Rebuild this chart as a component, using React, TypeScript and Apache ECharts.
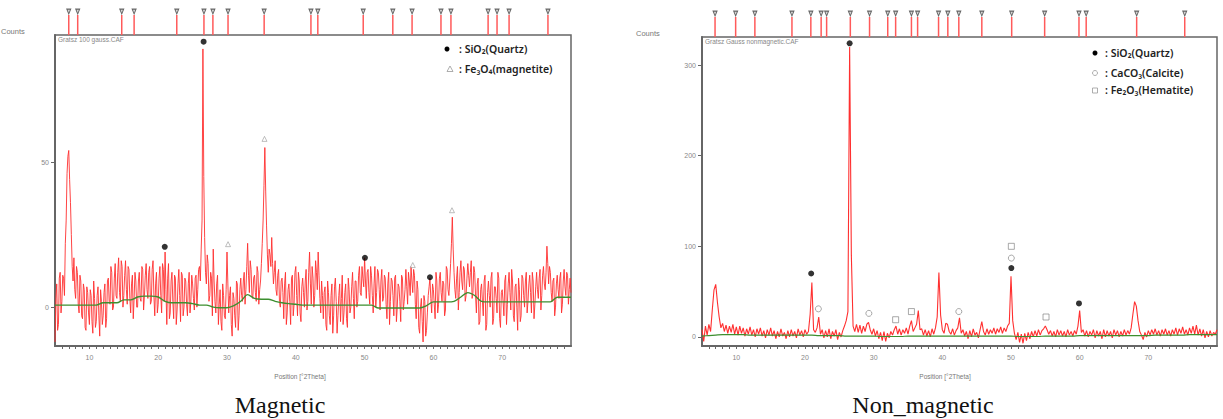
import React, { useEffect, useRef } from "react";
import * as echarts from "echarts";

// ---- data ----
const SCAN_START = 5;
const SCAN_STEP = 0.25;
const X_MIN = 5;
const X_MAX = 80;
const X_LABELS = [10, 20, 30, 40, 50, 60, 70];
const L_Y_LABELS = [0, 50];
const R_Y_LABELS = [0, 100, 200, 300];

// Magnetic sample counts, 5..80 °2θ at 0.25° steps
const L_COUNTS = [
  -12, 8, -6, 12, 2, 10, 22, 46, 54, 36, 14, 17, 3, 12, -2, 9, -4, 6, -8, 5,
  -6, 4, -9, 3, -5, 7, -10, 2, -3, 8, -4, 10, 1, 12, 0, 15, 3, 17, 2, 14,
  4, 16, 1, 13, -2, 11, 3, 9, 0, 12, 2, 13, 4, 15, 3, 14, 2, 16, -3, 12,
  1, 14, -2, 13, 19, -6, 15, -2, 12, -4, 10, -1, 13, -5, 11, 0, 9, -3, 12, 2,
  8, -1, 11, 6, 14, 20, 89, 24, 8, 15, 4, 10, 20, 2, 8, -6, 6, -8, 4, -4,
  19, -2, 7, -10, 3, -7, 8, -3, 10, 2, 12, 6, 22, 5, 13, 3, 11, 2, 12, 6,
  15, 30, 55, 28, 12, 18, 24, 8, 16, 4, 13, 0, 10, -4, 12, -2, 8, -6, 11, 1,
  14, -3, 9, -5, 10, 0, 13, 2, 19, 1, 10, 4, 12, 19, 3, 9, -4, 7, -8, 5,
  -6, 8, -3, 10, -9, 4, -5, 11, -2, 8, -7, 6, 0, 12, -4, 9, 2, 14, 4, 10,
  17, 3, 13, 1, 11, -2, 14, 5, 12, -1, 13, 3, 10, -4, 12, 2, 9, -3, 11, 0,
  7, -5, 10, 2, 13, 1, 9, 14, 5, 11, -4, 6, -9, 3, -12, 2, -8, 4, 10, -2,
  6, -4, 9, 1, 12, 2, 8, -1, 13, 4, 15, 31, 12, 3, 14, 5, 16, 6, 13, 4,
  15, 7, 16, 5, 12, -2, 10, -5, 8, -3, 11, -6, 9, 0, 12, -4, 7, -2, 10, -7,
  6, -3, 11, 1, 12, -1, 9, -5, 8, -8, 6, -3, 10, 0, 12, 2, 11, -2, 9, 1,
  12, 3, 13, 4, 14, 6, 21, 8, 12, 2, 10, 0, 11, 3, 12, 1, 13, 4, 11, 6,
  5,
];
// Magnetic sample counts at the in-between positions, 5.125..79.875 °2θ
const L_COUNTS_MID = [
  3, -8, 10, -2, 11, 4, 30, 52, 44, 25, 9, 6, 14, 1, 11, -3, 8, -7, 7, -2,
  6, -5, 9, -7, 4, -3, 6, -6, 5, -7, 9, 2, 14, -1, 10, 4, 12, 5, 16, 0,
  11, 6, 14, 3, 8, -4, 12, 0, 9, 3, 14, -1, 11, 6, 12, 1, 13, 4, 8, -2,
  10, 4, 15, 2, 6, 10, -4, 9, 2, 11, -6, 8, 4, 12, -3, 10, 1, 8, -2, 11,
  3, 10, 0, 13, 9, 30, 45, 12, 18, 2, 12, -3, 9, -2, 11, 1, -5, 8, -3, 6,
  8, 4, -6, 5, -3, 9, -8, 6, 4, 9, 1, 14, 11, 16, 4, 10, 5, 14, 1, 9,
  22, 42, 40, 18, 20, 14, 15, 12, 6, 11, 2, 9, 5, 8, -6, 6, 2, 10, -3, 12,
  4, 12, -2, 7, 5, 9, -1, 12, 8, 14, 0, 16, 6, 11, -2, 4, 5, -6, 9, -3,
  4, -9, 7, 2, -3, 8, 3, -6, 5, -4, 10, -2, 7, 3, 9, 0, 11, 5, 14, 7,
  9, 12, 5, 14, 4, 8, 0, 13, 6, 9, 2, 11, 1, 8, -6, 10, 4, 10, -5, 8,
  2, 11, -1, 6, 7, 12, 4, 9, 13, 1, 9, -7, 0, -5, 4, -10, -2, 7, 3, 8,
  1, 12, -2, 10, 5, 9, -3, 14, 6, 9, 22, 20, 6, 10, -1, 12, 9, 14, 2, 10,
  11, 12, 3, 14, 4, 8, -6, 6, 2, 9, -8, 5, 4, 10, -6, 7, 3, 12, -4, 5,
  2, 9, -6, 8, 5, 13, -3, 7, 0, 10, -5, 11, 4, 9, -2, 8, 5, 12, -4, 7,
  6, 10, -1, 11, 8, 12, 15, 14, 5, 9, -3, 8, 6, 10, -2, 9, 7, 12, 1, 10,
];
// background curves, 5..80 at 1° steps
const BG_X = [5,6,7,8,9,10,11,12,13,14,15,16,17,18,19,20,21,22,23,24,25,26,27,28,29,30,31,32,33,34,35,36,37,38,39,40,41,42,43,44,45,46,47,48,49,50,51,52,53,54,55,56,57,58,59,60,61,62,63,64,65,66,67,68,69,70,71,72,73,74,75,76,77,78,79,80];
const L_BG = [
  0.7, 0.7, 0.7, 0.7, 0.7, 0.7, 0.7, 1.5, 1.5, 1.5, 2.5, 2.5, 3.5, 3.8, 3.8, 3.5,
  2, 1.5, 1.5, 1.5, 1.2, 0.7, 0.7, 0, -0.2, -0.2, 0.5, 2, 4.3, 3, 2.7, 2.7, 2,
  1.5, 1.2, 1, 0.7, 0.7, 0.7, 0.7, 0.7, 0.7, 0.7, 0.7, 0.7, 0.7, 0.7, -0.3, -0.3,
  -0.3, -0.3, -0.3, -0.3, -0.3, 0.5, 1.8, 1.8, 1.8, 2, 3.5, 5, 4, 2, 1.8, 1.8,
  1.8, 1.8, 1.8, 1.8, 1.8, 1.8, 1.8, 1.8, 3.4, 3.4, 3.4,
];
const L_QUARTZ = [[20.95, 20.8], [26.6, 91.5], [50.05, 17], [59.5, 10.3]];
const L_MAGNETITE = [[30.15, 21.7], [35.45, 58], [57.0, 14.5], [62.7, 33.4]];
const L_REF_LINES = [7.0, 8.3, 14.7, 16.5, 22.7, 26.65, 27.95, 30.15, 35.4, 42.2, 43.2, 49.8, 54.1, 56.9, 61.1, 62.55, 67.95, 69.25, 71.0, 76.65];

// Non-magnetic sample counts, 5..80 °2θ at 0.25° steps
const R_COUNTS = [
  8, -5, 12, 2, 14, 6, 30, 52, 58, 38, 22, 10, 15, 6, 13, 4, 12, 5, 14, 3,
  11, 2, 12, 4, 10, 1, 9, 3, 11, 2, 8, 0, 9, 3, 10, 1, 7, -1, 8, 2,
  10, 1, 7, -2, 6, 0, 9, 1, 5, -2, 7, 0, 8, 1, 6, -1, 9, 2, 7, 0,
  8, 3, 6, 25, 60, 8, 5, 10, 22, 3, 8, -1, 7, 0, 9, -2, 6, 1, 8, -3,
  5, 0, 7, 12, 18, 28, 320, 90, 12, 6, 14, 5, 13, 4, 12, 6, 14, 16, 8, 3,
  9, 1, 7, -2, 5, -4, 6, -5, 4, -1, 6, 2, 8, 12, 3, 9, 2, 8, 4, 10,
  3, 12, 18, 6, 10, 14, 29, 8, 9, 2, 8, 1, 7, 0, 9, 3, 10, 22, 71, 24,
  8, 4, 15, 14, 6, 3, 9, 2, 7, 10, 21, 4, 8, 1, 6, -2, 7, 0, 9, 2,
  5, -1, 8, 17, 6, 2, 9, 3, 8, 4, 10, 3, 9, 5, 11, 4, 10, 6, 12, 15,
  67, 18, 4, -3, 5, -6, 3, -7, 4, -4, 5, -2, 6, 0, 7, 1, 8, 2, 7, 9,
  12, 8, 3, 7, 1, 6, 0, 8, 2, 7, 1, 6, 0, 8, 2, 6, 1, 7, 3, 12,
  29, 5, 8, 1, 7, 0, 6, 2, 8, -1, 7, 1, 6, -2, 8, 0, 7, 1, 6, -1,
  8, 2, 7, 0, 6, 1, 8, 2, 7, 3, 10, 25, 39, 34, 18, 6, 2, -3, 5, 0,
  7, 2, 8, 3, 9, 2, 7, 1, 8, 3, 9, 2, 7, 1, 8, 3, 10, 2, 9, 4,
  11, 3, 8, 2, 10, 4, 12, 3, 13, 2, 9, 1, 8, -1, 6, 0, 7, 1, 5, 3,
  8,
];
const R_BG = [
  1, 1.5, 2, 2.5, 2.5, 2.5, 2.5, 2, 2, 2, 2, 2, 2, 2, 2, 2, 2, 1.5, 1.5, 1.5,
  1.5, 1, 1, 1, 1, 1, 0.5, 0.5, 0.5, 0.5, 1, 1, 1, 1, 1, 1, 1, 1, 1, 1,
  1, 1, 1, 1, 1, 1, 0.5, 0.5, 0.5, 0.5, 1, 1, 1, 1, 1, 1.5, 1.5, 1.5, 1.5, 1.5,
  1.5, 1.5, 1.5, 1.5, 1.5, 1.5, 2, 2, 2, 2, 2, 2.5, 2.5, 2.5, 2.5, 2.5,
];
const R_QUARTZ = [[20.9, 70], [26.5, 324], [50.05, 76], [59.9, 37]];
const R_CALCITE = [[21.95, 31], [29.3, 26], [42.4, 28], [50.05, 87]];
const R_HEMATITE = [[33.2, 19], [35.5, 28], [50.05, 100], [55.1, 22]];
const R_REF_LINES = [6.9, 9.9, 12.7, 18.1, 20.85, 22.35, 23.15, 26.6, 29.4, 32.05, 33.2, 35.5, 36.4, 39.45, 40.8, 42.4, 45.75, 50.1, 54.9, 59.9, 60.95, 68.3, 75.3];

const AXIS_COLOR = "#666";
const RED = "#ff3030";
const GREEN = "#3d8f2f";

function scanPairs(vals: number[]) {
  return vals.map((v, i) => [SCAN_START + i * SCAN_STEP, v]);
}
function interleave(main: number[], mid: number[]) {
  const out: number[][] = [];
  for (let i = 0; i < main.length; i++) {
    out.push([SCAN_START + i * SCAN_STEP, main[i]]);
    if (i < mid.length) out.push([SCAN_START + i * SCAN_STEP + SCAN_STEP / 2, mid[i]]);
  }
  return out;
}
function bgPairs(vals: number[]) {
  return vals.map((v, i) => [BG_X[i], v]);
}

const minorTicks: number[] = [];
for (let t = 6; t <= 79; t++) minorTicks.push(t);

function mainX(gridIndex: number) {
  return {
    type: "value",
    gridIndex,
    min: X_MIN,
    max: X_MAX,
    axisLine: { show: true, onZero: false, lineStyle: { color: AXIS_COLOR, width: 2 } },
    axisTick: { show: true, customValues: minorTicks, length: 3, lineStyle: { color: AXIS_COLOR, width: 1 } },
    axisLabel: { show: true, customValues: X_LABELS, fontSize: 7, color: "#888", margin: 8, fontFamily: "Liberation Sans" },
    splitLine: { show: false },
  };
}
function mainY(gridIndex: number, min: number, max: number, labels: number[]) {
  return {
    type: "value",
    gridIndex,
    min,
    max,
    axisLine: { show: true, onZero: false, lineStyle: { color: AXIS_COLOR, width: 2 } },
    axisTick: { show: true, customValues: labels, length: 4, lineStyle: { color: AXIS_COLOR, width: 1 } },
    axisLabel: { show: true, customValues: labels, fontSize: 7, color: "#888", margin: 6, fontFamily: "Liberation Sans" },
    splitLine: { show: false },
  };
}
function stubX(gridIndex: number) {
  return { type: "value", gridIndex, min: X_MIN, max: X_MAX, show: false, splitLine: { show: false } };
}
function stubY(gridIndex: number) {
  return { type: "value", gridIndex, min: 0, max: 1.35, show: false, splitLine: { show: false } };
}

function stubSeries(refs: number[], idx: number) {
  return [
    {
      type: "bar",
      xAxisIndex: idx,
      yAxisIndex: idx,
      barWidth: 1.5,
      itemStyle: { color: "#ff5a5a" },
      data: refs.map((x) => [x, 1]),
      silent: true,
    },
    {
      type: "scatter",
      xAxisIndex: idx,
      yAxisIndex: idx,
      symbol: "triangle",
      symbolRotate: 180,
      symbolSize: [4, 5],
      itemStyle: { color: "#ccc", borderColor: "#444", borderWidth: 1 },
      data: refs.map((x) => [x, 1.17]),
      silent: true,
    },
  ];
}

function text(x: number, y: number, t: string, opts: any = {}) {
  return {
    type: "text",
    x,
    y,
    silent: true,
    style: {
      text: t,
      fontSize: opts.fontSize ?? 7,
      fontFamily: opts.fontFamily ?? "Liberation Sans",
      fontWeight: opts.fontWeight ?? "normal",
      fill: opts.fill ?? "#777",
      textAlign: opts.align ?? "left",
      textVerticalAlign: opts.valign ?? "middle",
      align: opts.align ?? "left",
      verticalAlign: opts.valign ?? "middle",
    },
  };
}

export default function App() {
  const ref = useRef<HTMLDivElement>(null);
  useEffect(() => {
    if (!ref.current) return;
    const chart = echarts.init(ref.current, null, { renderer: "svg" });
    const legendFont = { fontSize: 10.5, fontFamily: "Noto Sans", fontWeight: 600, fill: "#222" };
    const option: any = {
      animation: false,
      backgroundColor: "#fff",
      grid: [
        { left: 55, top: 35, width: 516, height: 311, show: true, borderColor: AXIS_COLOR, borderWidth: 1.5 },
        { left: 55, top: 8, width: 516, height: 27 },
        { left: 702, top: 37, width: 515, height: 309, show: true, borderColor: AXIS_COLOR, borderWidth: 1.5 },
        { left: 702, top: 10, width: 515, height: 27 },
      ],
      xAxis: [mainX(0), stubX(1), mainX(2), stubX(3)],
      yAxis: [mainY(0, -13.4, 93.8, L_Y_LABELS), stubY(1), mainY(2, -10, 331, R_Y_LABELS), stubY(3)],
      series: [
        {
          type: "line", xAxisIndex: 0, yAxisIndex: 0, showSymbol: false, symbol: "none",
          lineStyle: { color: RED, width: 0.9 }, data: interleave(L_COUNTS, L_COUNTS_MID), z: 2, silent: true,
        },
        {
          type: "line", xAxisIndex: 0, yAxisIndex: 0, showSymbol: false, symbol: "none", smooth: 0.3,
          lineStyle: { color: GREEN, width: 1.4 }, data: bgPairs(L_BG), z: 3, silent: true,
        },
        {
          type: "scatter", xAxisIndex: 0, yAxisIndex: 0, symbol: "circle", symbolSize: 6,
          itemStyle: { color: "#000" }, data: L_QUARTZ, z: 5,
        },
        {
          type: "scatter", xAxisIndex: 0, yAxisIndex: 0, symbol: "triangle", symbolSize: 5,
          itemStyle: { color: "#fff", borderColor: "#999", borderWidth: 0.8 }, data: L_MAGNETITE, z: 5,
        },
        ...stubSeries(L_REF_LINES, 1),
        {
          type: "line", xAxisIndex: 2, yAxisIndex: 2, showSymbol: false, symbol: "none",
          lineStyle: { color: RED, width: 1.1 }, data: scanPairs(R_COUNTS), z: 2, silent: true,
        },
        {
          type: "line", xAxisIndex: 2, yAxisIndex: 2, showSymbol: false, symbol: "none", smooth: 0.3,
          lineStyle: { color: GREEN, width: 1.2 }, data: bgPairs(R_BG), z: 3, silent: true,
        },
        {
          type: "scatter", xAxisIndex: 2, yAxisIndex: 2, symbol: "circle", symbolSize: 6,
          itemStyle: { color: "#000" }, data: R_QUARTZ, z: 5,
        },
        {
          type: "scatter", xAxisIndex: 2, yAxisIndex: 2, symbol: "circle", symbolSize: 6,
          itemStyle: { color: "#fff", borderColor: "#777", borderWidth: 0.8 }, data: R_CALCITE, z: 5,
        },
        {
          type: "scatter", xAxisIndex: 2, yAxisIndex: 2, symbol: "rect", symbolSize: 6,
          itemStyle: { color: "#fff", borderColor: "#777", borderWidth: 0.8 }, data: R_HEMATITE, z: 5,
        },
        ...stubSeries(R_REF_LINES, 3),
      ],
      graphic: [
        text(1, 31, "Counts", { fontSize: 7.5 }),
        text(636, 33, "Counts", { fontSize: 7.5 }),
        text(58, 39, "Gratsz 100 gauss.CAF", { fontSize: 6.5, fill: "#888" }),
        text(705, 41, "Gratsz Gauss nonmagnetic.CAF", { fontSize: 6.5, fill: "#888" }),
        text(300, 376, "Position [°2Theta]", { align: "center", fontSize: 6.5, fill: "#777" }),
        text(945, 376, "Position [°2Theta]", { align: "center", fontSize: 6.5, fill: "#777" }),
        text(280, 405, "Magnetic", { align: "center", fontSize: 24, fontFamily: "Liberation Serif", fill: "#111" }),
        text(923, 405, "Non_magnetic", { align: "center", fontSize: 24, fontFamily: "Liberation Serif", fill: "#111" }),
        // legend (left)
        { type: "circle", shape: { cx: 447, cy: 49, r: 2.5 }, style: { fill: "#000" }, silent: true },
        text(459, 49, ": SiO₂(Quartz)", legendFont),
        { type: "polygon", shape: { points: [[450, 66], [447, 71.5], [453, 71.5]] }, style: { fill: "#fff", stroke: "#999", lineWidth: 0.8 }, silent: true },
        text(459, 69, ": Fe₃O₄(magnetite)", legendFont),
        // legend (right)
        { type: "circle", shape: { cx: 1095, cy: 53, r: 2.5 }, style: { fill: "#000" }, silent: true },
        text(1105, 53, ": SiO₂(Quartz)", legendFont),
        { type: "circle", shape: { cx: 1095, cy: 73, r: 2.5 }, style: { fill: "#fff", stroke: "#999", lineWidth: 0.8 }, silent: true },
        text(1105, 73, ": CaCO₃(Calcite)", legendFont),
        { type: "rect", shape: { x: 1092.5, y: 88, width: 5, height: 5 }, style: { fill: "#fff", stroke: "#999", lineWidth: 0.8 }, silent: true },
        text(1105, 90, ": Fe₂O₃(Hematite)", legendFont),
      ],
    };
    chart.setOption(option);
    return () => chart.dispose();
  }, []);
  return (
    <div
      ref={ref}
      style={{ position: "absolute", left: 0, top: 0, width: 1223, height: 419 }}
    />
  );
}
